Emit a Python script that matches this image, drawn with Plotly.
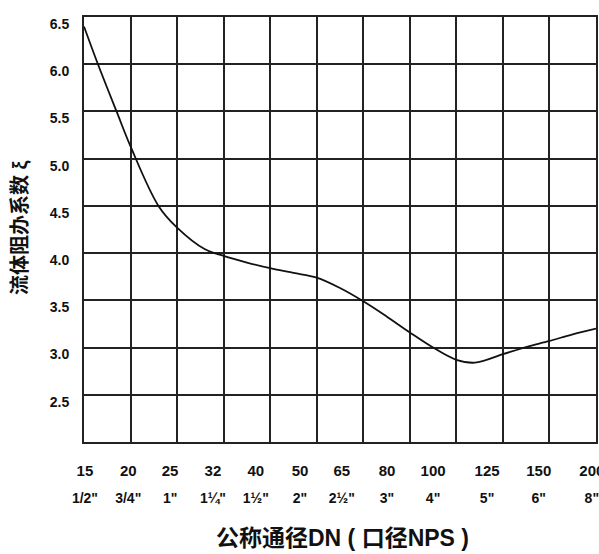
import plotly.graph_objects as go

# ---- data ----
dn_labels = ["15", "20", "25", "32", "40", "50", "65", "80", "100", "125", "150", "200"]
nps_labels = ['1/2"', '3/4"', '1"', '1¼"', '1½"', '2"', '2½"', '3"', '4"', '5"', '6"', '8"']
# curve position along the DN grid (0 = DN15 line ... 11 = DN200 line)
curve_x = [0, 0.3, 0.7, 1.0, 1.6, 2.0, 2.6, 3.0, 3.5, 4.0, 4.5, 5.0, 5.5, 6.0,
           6.5, 7.0, 7.5, 8.0, 8.4, 9.0, 9.5, 10.0, 10.5, 11.0]
curve_y = [6.40, 6.00, 5.50, 5.13, 4.50, 4.27, 4.04, 3.97, 3.90, 3.84, 3.79, 3.74,
           3.63, 3.49, 3.33, 3.16, 3.00, 2.87, 2.84, 2.93, 3.005, 3.07, 3.14, 3.20]
y_ticks = [2.5, 3.0, 3.5, 4.0, 4.5, 5.0, 5.5, 6.0, 6.5]
y_ticktext = ["2.5", "3.0", "3.5", "4.0", "4.5", "5.0", "5.5", "6.0", "6.5"]

# ---- layout constants ----
grid_vals = list(range(len(dn_labels)))
label_vals = [0.02, 0.95, 1.85, 2.77, 3.69, 4.64, 5.54, 6.51, 7.50, 8.66, 9.77, 10.91]
GRID = "#222222"
INK = "#111111"
TICKFONT = dict(family="Liberation Sans", size=15, color=INK, weight="bold")

fig = go.Figure()
fig.add_trace(go.Scatter(
    x=curve_x, y=curve_y, mode="lines",
    line=dict(color=INK, width=1.8, shape="spline"),
    showlegend=False, hoverinfo="skip",
))
fig.add_trace(go.Scatter(x=[None], y=[None], xaxis="x2", yaxis="y",
                         mode="lines", showlegend=False, hoverinfo="skip"))

fig.update_layout(
    width=599, height=554,
    margin=dict(l=84, r=3, t=17, b=112),
    paper_bgcolor="white", plot_bgcolor="white",
    xaxis=dict(
        range=[0, 11], tickmode="array", tickvals=label_vals, ticktext=dn_labels,
        showgrid=False, ticks="", zeroline=False,
        showline=True, linecolor=GRID, linewidth=2, mirror=True,
        minor=dict(tickmode="array", tickvals=grid_vals, showgrid=True,
                   gridcolor=GRID, gridwidth=2, ticks=""),
        tickfont=TICKFONT, ticklabelstandoff=14, automargin=False,
        ticklabeloverflow="allow",
    ),
    xaxis2=dict(
        range=[0, 11], overlaying="x", anchor="y", side="bottom",
        tickmode="array", tickvals=label_vals, ticktext=nps_labels,
        showgrid=False, ticks="", zeroline=False, showline=False,
        tickfont=dict(family="Liberation Sans", size=14, color=INK, weight="bold"),
        ticklabelstandoff=46, automargin=False, ticklabeloverflow="allow",
    ),
    yaxis=dict(
        range=[2.0, 6.5], tickmode="array", tickvals=y_ticks, ticktext=y_ticktext,
        showgrid=True, gridcolor=GRID, gridwidth=2, ticks="", zeroline=False,
        showline=True, linecolor=GRID, linewidth=2, mirror=True,
        tickfont=dict(family="Liberation Sans", size=14, color=INK, weight="bold"),
        ticklabelstandoff=10, ticklabelshift=7, automargin=False,
    ),
    annotations=[
        dict(text="流体阻办系数 ξ", xref="paper", yref="paper",
             x=-0.125, y=0.5035, xanchor="center", yanchor="middle",
             textangle=-90, showarrow=False,
             font=dict(family="Liberation Sans, Noto Sans CJK SC", size=20,
                       color=INK, weight="bold")),
        dict(text="公称通径DN ( 口径NPS )", xref="paper", yref="paper",
             x=0.504, y=-0.225, xanchor="center", yanchor="middle",
             showarrow=False,
             font=dict(family="Liberation Sans, Noto Sans CJK SC", size=23,
                       color=INK, weight="bold")),
    ],
)

fig.write_html("out.html", config={"displayModeBar": False},
               post_script="document.body.style.margin='0';")
